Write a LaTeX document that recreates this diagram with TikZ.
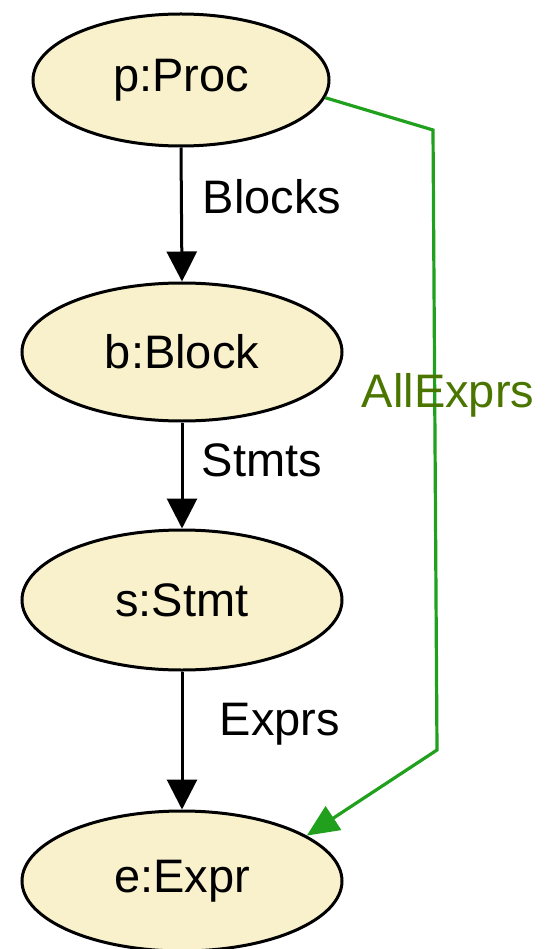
\documentclass[tikz,border=0pt]{standalone}
\usepackage{fontspec}
\setmainfont{Liberation Sans}
\usetikzlibrary{shapes.geometric,arrows.meta}
\definecolor{fillc}{RGB}{248,241,204}
\definecolor{edgegreen}{RGB}{32,160,28}
\definecolor{labgreen}{RGB}{74,118,0}
\begin{document}
\begin{tikzpicture}[x=1pt,y=-1pt,
  cls/.style={ellipse,draw=black,line width=3pt,fill=fillc,inner sep=0pt,
    font=\fontsize{47}{56}\selectfont},
  rel/.style={line width=3pt,-{Triangle[length=30pt,width=30pt]}},
  rellab/.style={font=\fontsize{47}{56}\selectfont},
  green rel/.style={draw=edgegreen,line width=3.2pt,-{Triangle[length=32pt,width=28pt]},color=edgegreen}]
\useasboundingbox (0,0) rectangle (545,949);
\node[cls,minimum width=296pt,minimum height=132pt] (p) at (181,80) {p:Proc};
\node[cls,minimum width=320pt,minimum height=138pt] (b) at (182,352) {b:Block};
\node[cls,minimum width=320pt,minimum height=140pt] (s) at (182,600) {s:Stmt};
\node[cls,minimum width=320pt,minimum height=140pt] (e) at (182,881) {e:Expr};
\draw[rel] (p.south) -- (b.north);
\draw[rel] (b.south) -- (s.north);
\draw[rel] (s.south) -- (e.north);
\node[rellab] (l1) at (272,197) {Blocks};
\node[rellab] (l2) at (262,460) {Stmts};
\node[rellab] (l3) at (280,724) {Exprs};
\coordinate (c1) at (433,130);
\coordinate (c2) at (437,750);
\draw[green rel] (p.-7) -- (c1) -- (c2) -- (e.20);
\node[rellab,text=labgreen] (lab) at (448,395) {AllExprs};
\end{tikzpicture}
\end{document}
